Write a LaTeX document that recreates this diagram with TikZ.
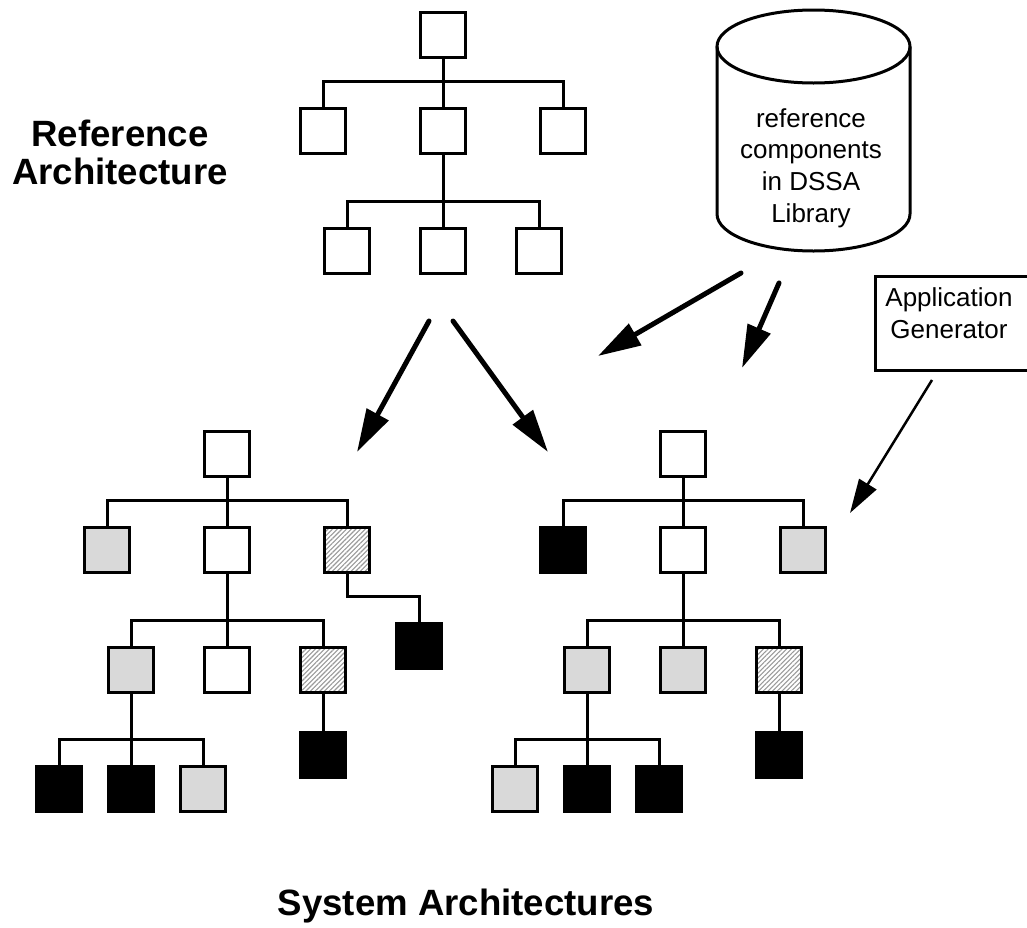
\documentclass[tikz,border=0pt]{standalone}
\usepackage{fontspec}
\setmainfont{Liberation Sans}
\usetikzlibrary{arrows.meta,patterns.meta}

\tikzset{
  comp/.style={shape=rectangle, draw=black, line width=3pt, minimum size=45pt,
               inner sep=0pt, outer sep=0pt},
  plain/.style={comp, fill=white},
  stipple/.style={comp, fill=gray!30},
  hatch/.style={comp, pattern={Lines[angle=45,distance=3.3pt,line width=1.1pt]},
                pattern color=gray!80},
  solid/.style={comp, fill=black},
  link/.style={line width=3pt, line join=miter},
  bigarrow/.style={line width=5pt, line cap=round,
                   -{Triangle[length=43pt,width=24pt]}},
  thinarrow/.style={line width=2.5pt, -{Triangle[length=34pt,width=20pt]}},
  title/.style={font=\bfseries\fontsize{36.6}{38}\selectfont, align=center,
                inner sep=0pt},
  label/.style={font=\fontsize{26}{31.7}\selectfont, align=center, inner sep=0pt},
}

% parent-to-child connector with a rail just above the child
\newcommand\treeedge[2]{\draw[link] (#1.south) |- ([yshift=27pt]#2.north) -- (#2.north);}

\begin{document}
\begin{tikzpicture}[x=1pt,y=-1pt]
\useasboundingbox (0,0) rectangle (1027,927);

% ---------- reference architecture ----------
\node[plain] (r0) at (443,35) {};
\node[plain] (r1) at (323,131) {};
\node[plain] (r2) at (443,131) {};
\node[plain] (r3) at (563,131) {};
\node[plain] (r4) at (347,251) {};
\node[plain] (r5) at (443,251) {};
\node[plain] (r6) at (539,251) {};
\foreach \c in {r1,r2,r3} {\treeedge{r0}{\c}}
\foreach \c in {r4,r5,r6} {\treeedge{r2}{\c}}

\node[title] (reftitle) at (120,152) {Reference\\Architecture};

% ---------- DSSA library ----------
\draw[line width=3pt] (813.5,46.5) ellipse [x radius=96.5pt, y radius=36.5pt];
\draw[line width=3pt] (717,46.5) -- (717,214)
  arc[start angle=180, end angle=360, x radius=96.5pt, y radius=37pt]
  -- (910,46.5);
\node[label] (lib) at (811,168) {reference\\components\\in DSSA\\Library};

% ---------- application generator (runs off the right edge) ----------
\node[draw, line width=3pt, minimum width=175pt, minimum height=94pt,
      inner sep=0pt, outer sep=0pt, anchor=north west] (gen) at (875.5,276.5) {};
\node[label] (gentext) at (949,313) {Application\\Generator};

% ---------- left system architecture ----------
\node[plain]   (a0)  at (227,454) {};
\node[stipple] (a1)  at (107,550) {};
\node[plain]   (a2)  at (227,550) {};
\node[hatch]   (a3)  at (347,550) {};
\node[solid]   (a7)  at (419,646) {};
\node[stipple] (a4)  at (131,670) {};
\node[plain]   (a5)  at (227,670) {};
\node[hatch]   (a6)  at (323,670) {};
\node[solid]   (a8)  at (59,789) {};
\node[solid]   (a9)  at (131,789) {};
\node[stipple] (a10) at (203,789) {};
\node[solid]   (a11) at (323,755) {};
\foreach \c in {a1,a2,a3} {\treeedge{a0}{\c}}
\treeedge{a3}{a7}
\foreach \c in {a4,a5,a6} {\treeedge{a2}{\c}}
\foreach \c in {a8,a9,a10} {\treeedge{a4}{\c}}
\treeedge{a6}{a11}

% ---------- right system architecture ----------
\node[plain]   (b0)  at (683,454) {};
\node[solid]   (b1)  at (563,550) {};
\node[plain]   (b2)  at (683,550) {};
\node[stipple] (b3)  at (803,550) {};
\node[stipple] (b4)  at (587,670) {};
\node[stipple] (b5)  at (683,670) {};
\node[hatch]   (b6)  at (779,670) {};
\node[stipple] (b7)  at (515,789) {};
\node[solid]   (b8)  at (587,789) {};
\node[solid]   (b9)  at (659,789) {};
\node[solid]   (b10) at (779,755) {};
\foreach \c in {b1,b2,b3} {\treeedge{b0}{\c}}
\foreach \c in {b4,b5,b6} {\treeedge{b2}{\c}}
\foreach \c in {b7,b8,b9} {\treeedge{b4}{\c}}
\treeedge{b6}{b10}

\node[title, anchor=base] (systitle) at (466,915) {System Architectures};

% ---------- derivation arrows ----------
\coordinate (refL) at (429,321);
\coordinate (refR) at (453,321);
\coordinate (toL)  at (357,452);
\coordinate (toR)  at (548,452);
\coordinate (libA) at (741,273);
\coordinate (libB) at (779,283);
\coordinate (libAend) at (598,356);
\coordinate (libBend) at (742,368);
\coordinate (genS) at (932,380);
\coordinate (genE) at (850,513);

\draw[bigarrow] (refL) -- (toL);
\draw[bigarrow] (refR) -- (toR);
\draw[bigarrow] (libA) -- (libAend);
\draw[bigarrow] (libB) -- (libBend);
\draw[thinarrow] (genS) -- (genE);
\end{tikzpicture}
\end{document}
